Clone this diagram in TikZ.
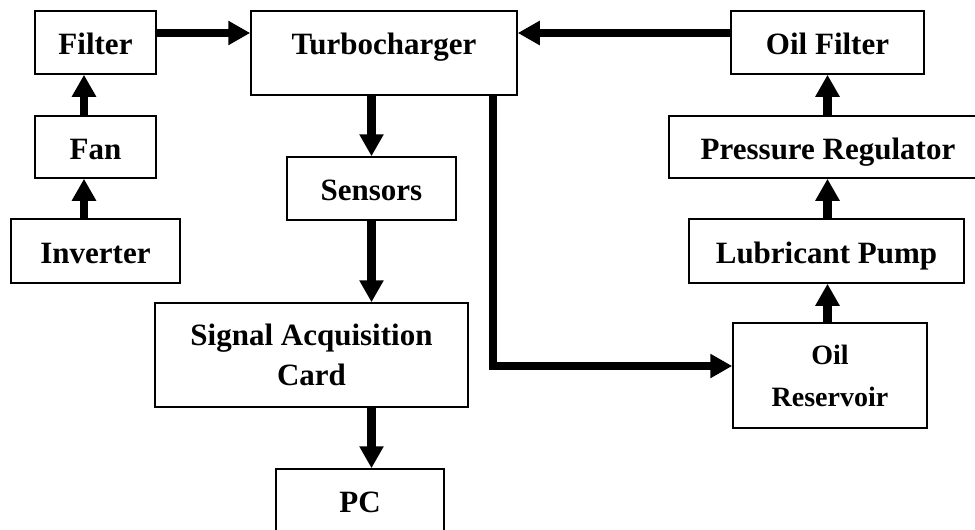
\documentclass[tikz,border=0pt]{standalone}
\usepackage{fontspec}
\setmainfont{Liberation Serif}
\usetikzlibrary{arrows.meta}
\begin{document}
\begin{tikzpicture}[x=0.5pt,y=-0.5pt,>={Triangle[length=11pt,width=11.5pt]},
  blk/.style={draw,line width=0.75pt,inner sep=0pt,font=\bfseries\fontsize{15.5}{20}\selectfont},
  one/.style={blk,text height=12pt,text depth=0pt},
  two/.style={blk,align=center},
  flow/.style={->,line width=4.25pt}]
\clip (0,0) rectangle (975,530);
% air side
\node[one,minimum width=60.5pt,minimum height=31.5pt] (filter) at (95.5,42.5) {Filter};
\node[one,minimum width=60.5pt,minimum height=31pt] (fan) at (95.5,147) {Fan};
\node[one,minimum width=84.5pt,minimum height=32pt] (inv) at (95.5,251) {Inverter};
\node[one,text depth=10.8pt,minimum width=133pt,minimum height=42pt] (turbo) at (384,53) {Turbocharger};
% measurement
\node[one,minimum width=84.5pt,minimum height=31.5pt] (sens) at (371.5,188.5) {Sensors};
\node[two,minimum width=156.5pt,minimum height=52pt] (sac) at (311.5,355) {Signal Acquisition\\Card};
\node[one,minimum width=84pt,minimum height=31.5pt] (pc) at (360,500.5) {PC};
% oil side
\node[one,minimum width=96.5pt,minimum height=31.5pt] (oilf) at (827.5,42.5) {Oil Filter};
\node[one,minimum width=159pt,minimum height=31pt] (preg) at (828,147) {Pressure Regulator};
\node[one,minimum width=137.5pt,minimum height=32pt] (lube) at (826.5,251) {Lubricant Pump};
\node[two,font=\bfseries\fontsize{14}{21}\selectfont,minimum width=97pt,minimum height=52.5pt] (res) at (830,375.5) {Oil\\Reservoir};
\coordinate (a1) at ([yshift=4.75pt]filter.east);
\coordinate (a2) at ([yshift=4.75pt]oilf.west);
\coordinate (t1) at ([xshift=-12.5pt]turbo.south east);
\coordinate (r1) at ([yshift=4.75pt]res.west);
\draw[flow] ([xshift=-5.75pt]inv.north)--([xshift=-5.75pt]fan.south);
\draw[flow] ([xshift=-5.75pt]fan.north)--([xshift=-5.75pt]filter.south);
\draw[flow] (a1)--(a1 -| turbo.west);\draw[flow] (a2)--(a2 -| turbo.east);
\draw[flow] (turbo.south -| sens.north)--(sens.north);
\draw[flow] (sens.south)--(sens.south |- sac.north);
\draw[flow] (sens.south |- sac.south)--(sens.south |- pc.north);
\draw[flow] (t1) |- (r1);
\draw[flow] (res.north -| oilf.south)--(lube.south -| oilf.south);
\draw[flow] (lube.north -| oilf.south)--(preg.south -| oilf.south);
\draw[flow] (preg.north -| oilf.south)--(oilf.south);
\end{tikzpicture}
\end{document}
